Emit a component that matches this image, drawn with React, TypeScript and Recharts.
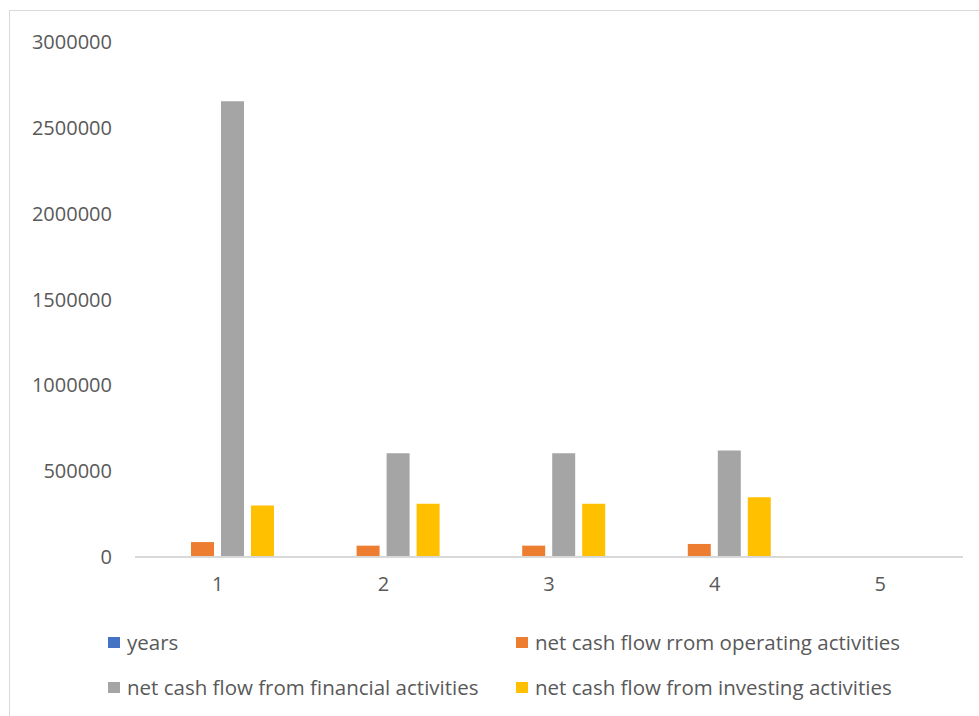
import React from "react";
import { BarChart, Bar, XAxis, YAxis } from "recharts";

const categories = ["1", "2", "3", "4", "5"];
const years = [1, 2, 3, 4, 5];
const operating = [87000, 66000, 66000, 76000, null];
const financial = [2655000, 605000, 605000, 620000, null];
const investing = [300000, 310000, 310000, 348000, null];
const yTicks = [0, 500000, 1000000, 1500000, 2000000, 2500000, 3000000];

const series = [
  { key: "years", name: "years", color: "#4472c4" },
  { key: "operating", name: "net cash flow rrom operating activities", color: "#ed7d31" },
  { key: "financial", name: "net cash flow from financial activities", color: "#a5a5a5" },
  { key: "investing", name: "net cash flow from investing activities", color: "#ffc000" },
];

const data = categories.map((c, i) => ({
  cat: c,
  years: years[i],
  operating: operating[i],
  financial: financial[i],
  investing: investing[i],
}));

const font = "'Open Sans', sans-serif";
const textColor = "#595959";

// legend order in the picture: row 1 = years / operating, row 2 = financial / investing
const legendPos = [
  { left: 108, top: 642 },
  { left: 516, top: 642 },
  { left: 108, top: 687 },
  { left: 516, top: 687 },
];

export default function App() {
  return (
    <div
      style={{
        position: "absolute",
        left: 0,
        top: 0,
        width: 979,
        height: 716,
        overflow: "hidden",
        background: "#fff",
        fontFamily: font,
      }}
    >
      <div
        style={{
          position: "absolute",
          left: 9,
          top: 10,
          width: 1000,
          height: 740,
          border: "1px solid #d9d9d9",
        }}
      />
      <BarChart
        width={979}
        height={716}
        data={data}
        margin={{ top: 42, right: 16, left: 0, bottom: 119 }}
        barSize={23}
        barGap={7}
        style={{ position: "absolute", left: 0, top: 0 }}
      >
        <XAxis
          dataKey="cat"
          height={40}
          axisLine={{ stroke: "#d9d9d9", strokeWidth: 2 }}
          tickLine={false}
          tickSize={6}
          tickMargin={14}
          tick={{ fill: textColor, fontSize: 20, fontFamily: font }}
        />
        <YAxis
          width={135}
          domain={[0, 3000000]}
          ticks={yTicks}
          interval={0}
          axisLine={false}
          tickLine={false}
          tickSize={6}
          tickMargin={17}
          tick={{ fill: textColor, fontSize: 20, fontFamily: font }}
        />
        {series.map((s) => (
          <Bar
            key={s.key}
            dataKey={s.key}
            name={s.name}
            fill={s.color}
            isAnimationActive={false}
          />
        ))}
      </BarChart>
      {series.map((s, i) => (
        <div
          key={s.key}
          style={{
            position: "absolute",
            left: legendPos[i].left,
            top: legendPos[i].top - 15,
            height: 30,
            display: "flex",
            alignItems: "center",
            fontSize: 20.5,
            color: textColor,
            whiteSpace: "nowrap",
          }}
        >
          <span
            style={{
              display: "inline-block",
              width: 12,
              height: 11,
              background: s.color,
              marginRight: 7,
            }}
          />
          {s.name}
        </div>
      ))}
    </div>
  );
}
